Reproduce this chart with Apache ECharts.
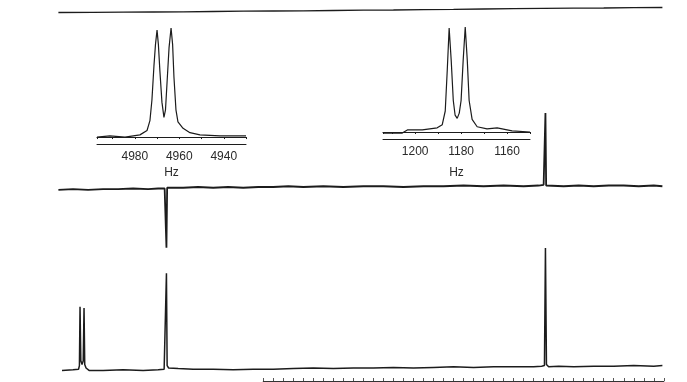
<!DOCTYPE html>
<html><head><meta charset="utf-8">
<script src="https://cdn.jsdelivr.net/npm/echarts@6/dist/echarts.min.js"></script>
<style>html,body{margin:0;padding:0;background:#fff}#c{width:687px;height:382px}</style>
</head><body><div id="c"></div>
<script>
// ---- data (Hz, relative intensity) ----
const topTrace = [[6046,-0.25],[5700,-0.24],[5400,-0.22],[5100,-0.2],[4800,-0.18],[4500,-0.15],[4200,-0.12],[3900,-0.1],[3600,-0.08],[3300,-0.05],[3000,-0.02],[2700,0.0],[2400,0.03],[2100,0.06],[1800,0.1],[1500,0.13],[1200,0.16],[900,0.18],[600,0.2],[300,0.23],[14,0.25]];
const middleTrace = [[6046,-0.04],[5900,-0.03],[5750,-0.04],[5600,-0.03],[5450,-0.03],[5300,-0.02],[5150,-0.03],[5050,-0.02],[4985,-0.02],[4975,-0.01],[4967,-0.82],[4960,-0.01],[4950,-0.01],[4800,-0.01],[4650,0.0],[4500,-0.01],[4350,0.0],[4200,-0.01],[4050,0.0],[3900,0.0],[3750,0.01],[3600,0.0],[3400,0.01],[3200,0.0],[3000,0.01],[2800,0.01],[2600,0.0],[2400,0.01],[2200,0.01],[2000,0.02],[1800,0.01],[1600,0.02],[1400,0.01],[1250,0.02],[1200,0.03],[1190,0.02],[1182,1.0],[1175,0.02],[1160,0.02],[1000,0.01],[850,0.02],[700,0.01],[550,0.02],[400,0.02],[250,0.01],[100,0.02],[14,0.01]];
const bottomTrace = [[6010,-0.02],[5900,-0.015],[5845,-0.01],[5836,0.02],[5830,0.51],[5822,0.06],[5810,0.03],[5798,0.06],[5790,0.5],[5783,0.03],[5770,0.0],[5740,-0.02],[5600,-0.02],[5400,-0.015],[5200,-0.02],[5050,-0.015],[4990,-0.01],[4975,0.0],[4967,0.79],[4960,0.02],[4945,0.0],[4850,-0.005],[4700,-0.01],[4500,-0.01],[4300,-0.015],[4100,-0.01],[3900,-0.01],[3700,-0.005],[3500,0.0],[3300,-0.005],[3100,0.0],[2900,0.0],[2700,0.005],[2500,0.0],[2300,0.005],[2100,0.01],[1900,0.005],[1700,0.01],[1500,0.01],[1300,0.01],[1220,0.015],[1192,0.02],[1182,1.0],[1172,0.03],[1150,0.01],[1050,0.015],[900,0.01],[700,0.015],[500,0.015],[300,0.02],[100,0.015],[14,0.02]];
const inset1Trace = [[4997,0.0],[4991.2,0.01],[4984.4,0.0],[4977.7,0.02],[4974.5,0.06],[4973.2,0.15],[4972.3,0.34],[4971.4,0.65],[4970.7,0.85],[4970.0,0.98],[4969.4,0.85],[4968.7,0.6],[4967.8,0.32],[4966.9,0.18],[4966.2,0.25],[4965.5,0.5],[4964.6,0.82],[4963.7,1.0],[4963.0,0.85],[4962.4,0.55],[4961.5,0.25],[4960.6,0.14],[4958.3,0.08],[4955.2,0.04],[4950.7,0.02],[4941.7,0.01],[4930.0,0.01]];
const inset2Trace = [[1214,-0.01],[1205.6,-0.01],[1203.4,0.02],[1196.9,0.02],[1190.4,0.04],[1188.2,0.07],[1186.9,0.2],[1186.0,0.6],[1185.2,0.99],[1184.3,0.68],[1183.4,0.3],[1182.6,0.16],[1181.7,0.13],[1180.8,0.18],[1180.0,0.3],[1179.1,0.68],[1178.2,1.0],[1177.3,0.68],[1176.5,0.3],[1175.2,0.12],[1173.0,0.05],[1168.7,0.03],[1164.3,0.04],[1157.8,0.01],[1150,0.0]];
const inset1Labels = [4980, 4960, 4940];
const inset2Labels = [1200, 1180, 1160];
const unitName = 'Hz';

const ink = '#1c1c1c';
const font = 'Liberation Sans';
const hiddenY = (gi, min, max) => ({gridIndex: gi, type:'value', min, max, show:false});
const mainX = gi => ({gridIndex: gi, type:'value', min:0, max:6050, inverse:true, show:false});
const line = (xi, yi, data, w) => ({type:'line', xAxisIndex:xi, yAxisIndex:yi, data, symbol:'none', silent:true,
  lineStyle:{color:ink, width:w}, animation:false});

const chart = echarts.init(document.getElementById('c'), null, {renderer:'canvas'});
chart.setOption({
  animation:false,
  backgroundColor:'#fff',
  grid:[
    {left:58, width:605.8, top:0, height:20},
    {left:58, width:605.8, top:98.2, height:162.8},
    {left:58, width:605.8, top:242, height:132},
    {left:97, width:149, top:28, height:114.5},
    {left:383, width:147, top:27, height:110.25},
    {left:263.3, width:400.5, top:370, height:11}
  ],
  xAxis:[
    mainX(0), mainX(1), mainX(2),
    {gridIndex:3, type:'value', position:'bottom', min:4930, max:4997, interval:10, inverse:true,
      axisLine:{show:true, lineStyle:{color:ink, width:1.2}},
      axisTick:{show:true, length:2, lineStyle:{color:ink}},
      splitLine:{show:false},
      axisLabel:{margin:8, color:'#2a2a2a', fontFamily:font, fontSize:12,
        formatter:v => inset1Labels.includes(v) ? String(v) : ''},
      name:unitName, nameLocation:'middle', nameGap:24,
      nameTextStyle:{color:'#2a2a2a', fontFamily:font, fontSize:12}},
    {gridIndex:3, type:'value', position:'bottom', min:4930, max:4997, inverse:true, offset:2,
      axisLine:{show:true, lineStyle:{color:ink, width:1}}, axisTick:{show:false}, axisLabel:{show:false}, splitLine:{show:false}},
    {gridIndex:4, type:'value', position:'bottom', min:1150, max:1214, interval:10, inverse:true,
      axisLine:{show:true, lineStyle:{color:ink, width:1.2}},
      axisTick:{show:true, length:2, lineStyle:{color:ink}},
      splitLine:{show:false},
      axisLabel:{margin:8, color:'#2a2a2a', fontFamily:font, fontSize:12,
        formatter:v => inset2Labels.includes(v) ? String(v) : ''},
      name:unitName, nameLocation:'middle', nameGap:29,
      nameTextStyle:{color:'#2a2a2a', fontFamily:font, fontSize:12}},
    {gridIndex:4, type:'value', position:'bottom', min:1150, max:1214, inverse:true, offset:2,
      axisLine:{show:true, lineStyle:{color:ink, width:1}}, axisTick:{show:false}, axisLabel:{show:false}, splitLine:{show:false}},
    {gridIndex:5, type:'value', position:'bottom', min:0, max:4000, interval:100, inverse:true,
      axisLine:{show:true, lineStyle:{color:'#333', width:1.2}},
      axisTick:{show:true, inside:true, length:3, lineStyle:{color:'#555'}},
      axisLabel:{show:false}, splitLine:{show:false}}
  ],
  yAxis:[
    hiddenY(0,-1,1), hiddenY(1,-1,1.2), hiddenY(2,-0.05,1.05),
    hiddenY(3,-0.05,1.0), hiddenY(4,-0.05,1.0), hiddenY(5,0,1)
  ],
  series:[
    line(0,0,topTrace,1.3),
    line(1,1,middleTrace,1.8),
    line(2,2,bottomTrace,1.5),
    line(3,3,inset1Trace,1.2),
    line(5,4,inset2Trace,1.2),
    {type:'line', xAxisIndex:7, yAxisIndex:5, data:[], symbol:'none'}
  ]
});
</script></body></html>
